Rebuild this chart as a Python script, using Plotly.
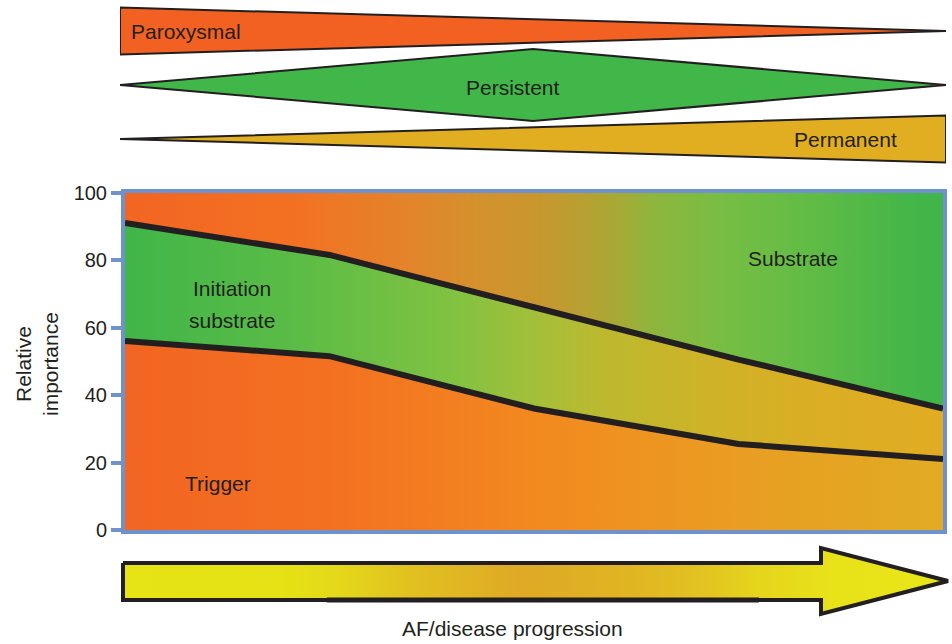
import plotly.graph_objects as go

# ---------------- data ----------------
progression = [0, 1, 2, 3, 4]
trigger_upper = [56, 51.5, 36, 25.5, 21]          # boundary Trigger / Initiation substrate
initiation_upper = [91, 81.5, 66, 50.5, 36]       # boundary Initiation substrate / Substrate
top_value = [100, 100, 100, 100, 100]
y_ticks = [0, 20, 40, 60, 80, 100]

stage_x = [0, 2, 4]
stage_names = ["Paroxysmal", "Persistent", "Permanent"]
paroxysmal = [1.0, 0.5, 0.0]
persistent = [0.0, 1.0, 0.0]
permanent = [0.0, 0.5, 1.0]

# ---------------- style ----------------
W, H = 952, 644
FONT = "Liberation Sans, Arial, Helvetica, sans-serif"
TXT = "#231F20"
BLUE = "#7092CC"

def px(x, y):
    return x / W, 1 - y / H

trigger_scale = [[0, "#F26522"], [0.25, "#F37021"], [0.5, "#F2891F"],
                 [0.75, "#E99D22"], [1, "#E1AC22"]]
init_scale = [[0, "#40B549"], [0.21, "#5BBC46"], [0.40, "#80C241"], [0.50, "#A3BF3A"],
              [0.58, "#BBB92F"], [0.70, "#CDB328"], [0.83, "#DAAE24"], [1, "#E1AC22"]]
subst_scale = [[0, "#F26522"], [0.21, "#F37122"], [0.34, "#E4832A"], [0.43, "#D4912C"],
               [0.50, "#C9962E"], [0.56, "#B8A031"], [0.61, "#A3AB36"], [0.64, "#90B43C"],
               [0.73, "#77BE43"], [0.83, "#62BC45"], [0.95, "#46B648"], [1, "#40B549"]]
arrow_scale = [[0, "#E6E414"], [0.19, "#E6E215"], [0.26, "#E4D81A"], [0.34, "#E1C21F"],
               [0.48, "#DFA926"], [0.60, "#E0B323"], [0.70, "#E2C220"], [0.77, "#E5D51C"],
               [0.86, "#E8E219"], [1, "#E8E617"]]

stage_colors = ["#F26122", "#41B649", "#E1AD21"]
stage_half = [0.435, 0.667, 0.435]   # max half-thickness in row units

fig = go.Figure()

# ---- main area fills ----
fig.add_trace(go.Scatter(x=progression, y=trigger_upper, mode="lines", line=dict(width=0),
                         fill="tozeroy", fillgradient=dict(type="horizontal", colorscale=trigger_scale),
                         hoverinfo="skip", showlegend=False))
fig.add_trace(go.Scatter(x=progression, y=initiation_upper, mode="lines", line=dict(width=0),
                         fill="tonexty", fillgradient=dict(type="horizontal", colorscale=init_scale),
                         hoverinfo="skip", showlegend=False))
fig.add_trace(go.Scatter(x=progression, y=top_value, mode="lines", line=dict(width=0),
                         fill="tonexty", fillgradient=dict(type="horizontal", colorscale=subst_scale),
                         hoverinfo="skip", showlegend=False))
for yy in (initiation_upper, trigger_upper):
    fig.add_trace(go.Scatter(x=progression, y=yy, mode="lines",
                             line=dict(color=TXT, width=6), hoverinfo="skip", showlegend=False))

# ---- stage shapes (top) ----
for i, (name, vals) in enumerate(zip(stage_names, [paroxysmal, persistent, permanent])):
    row = i + 1
    half = [v * stage_half[i] for v in vals]
    xs = stage_x + stage_x[::-1] + [stage_x[0]]
    ys = [row - h for h in half] + [row + h for h in half[::-1]] + [row - half[0]]
    fig.add_trace(go.Scatter(x=xs, y=ys, xaxis="x2", yaxis="y2", mode="lines",
                             line=dict(color=TXT, width=2), fill="toself",
                             fillcolor=stage_colors[i], hoverinfo="skip", showlegend=False))

# ---- progression arrow (decoration, pixel geometry) ----
ax = [123, 821, 821, 948, 821, 821, 123, 123]
ay = [563, 563, 548, 581, 614, 600, 600, 563]
fig.add_trace(go.Scatter(x=ax, y=ay, xaxis="x3", yaxis="y3", mode="lines",
                         line=dict(color=TXT, width=4), fill="toself",
                         fillgradient=dict(type="horizontal", colorscale=arrow_scale),
                         hoverinfo="skip", showlegend=False))
fig.add_trace(go.Scatter(x=[327, 759], y=[600, 600], xaxis="x3", yaxis="y3", mode="lines",
                         line=dict(color=TXT, width=5), hoverinfo="skip", showlegend=False))

# ---- annotations ----
ann = []
def add_text(text, x, y, size=21, xanchor="center", angle=0):
    xp, yp = px(x, y)
    ann.append(dict(text=text, x=xp, y=yp, xref="paper", yref="paper", showarrow=False,
                    xanchor=xanchor, yanchor="middle", textangle=angle,
                    font=dict(family=FONT, size=size, color=TXT)))

add_text("Paroxysmal", 129, 31, xanchor="left")
add_text("Persistent", 513, 87)
add_text("Permanent", 845, 140)
add_text("Initiation", 232, 288)
add_text("substrate", 232, 320)
add_text("Trigger", 218, 483)
add_text("Substrate", 793, 258)
add_text("AF/disease progression", 512, 628)
add_text("Relative<br>importance", 37, 364, size=21, angle=-90)

fig.update_layout(
    width=W, height=H,
    margin=dict(l=0, r=0, t=0, b=0, pad=0, autoexpand=False),
    paper_bgcolor="white", plot_bgcolor="rgba(0,0,0,0)",
    showlegend=False,
    annotations=ann,
    xaxis=dict(domain=[125 / W, 943 / W], range=[0, 4], showgrid=False, zeroline=False,
               showticklabels=False, ticks="", showline=True, mirror=True,
               linecolor=BLUE, linewidth=4, fixedrange=True, automargin=False),
    yaxis=dict(domain=[1 - 530 / H, 1 - 192.5 / H], range=[0, 100], tickvals=y_ticks,
               ticks="outside", ticklen=10, tickwidth=4, tickcolor=BLUE,
               showline=True, mirror=True, linecolor=BLUE, linewidth=4,
               showgrid=False, zeroline=False, automargin=False,
               tickfont=dict(family=FONT, size=20, color=TXT), fixedrange=True),
    xaxis2=dict(domain=[120 / W, 946 / W], range=[0, 4], anchor="y2", visible=False,
                fixedrange=True, automargin=False),
    yaxis2=dict(domain=[1 - 166 / H, 1 - 4 / H], range=[3.5, 0.5], anchor="x2", visible=False,
                fixedrange=True, automargin=False),
    xaxis3=dict(domain=[0, 1], range=[0, W], anchor="y3", visible=False, fixedrange=True,
                automargin=False),
    yaxis3=dict(domain=[0, 1], range=[H, 0], anchor="x3", visible=False, fixedrange=True,
                automargin=False),
)

fig.write_html("out.html", config={"displayModeBar": False},
               post_script="document.body.style.margin='0';document.body.style.overflow='hidden';")
